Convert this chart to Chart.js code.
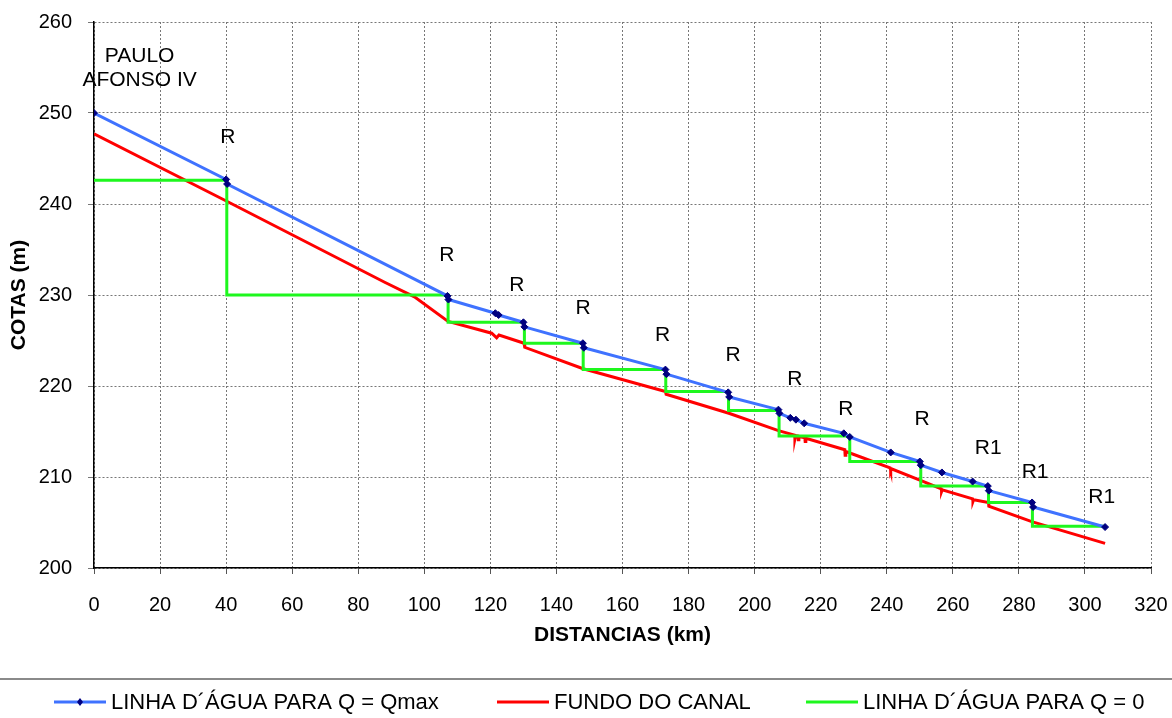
<!DOCTYPE html>
<html lang="pt-BR">
<head>
<meta charset="utf-8">
<title>Perfil do canal</title>
<script src="https://cdn.jsdelivr.net/npm/chart.js@4.4.1/dist/chart.umd.min.js"></script>
<style>
  html, body { margin: 0; padding: 0; background: #ffffff; }
  #perfil { display: block; }
</style>
</head>
<body>
<canvas id="perfil" width="1172" height="718"></canvas>
<script>
// Linha d'água para Q = Qmax (km, cota)
const qmaxKm = [0, 40.0, 40.3, 107.0, 107.3, 121.5, 122.5, 130.0, 130.3, 148.0, 148.3, 173.0, 173.3, 192.0, 192.3, 207.2, 207.5, 210.8, 212.5, 215.0, 227.0, 228.8, 241.2, 250.0, 250.3, 256.7, 266.0, 270.6, 270.9, 284.0, 284.3, 306.1];
const qmaxCota = [250.0, 242.7, 242.2, 229.9, 229.5, 228.0, 227.8, 227.0, 226.5, 224.7, 224.2, 221.8, 221.3, 219.3, 218.8, 217.4, 217.0, 216.5, 216.3, 215.9, 214.8, 214.4, 212.7, 211.7, 211.3, 210.5, 209.5, 209.0, 208.5, 207.2, 206.7, 204.5];

// Fundo do canal
const fundoKm = [0, 40.2, 88, 97, 107.2, 120.4, 121.9, 122.6, 130.2, 130.4, 148.1, 173.0, 173.2, 192.2, 207.2, 212.1, 212.2, 212.4, 213.1, 213.2, 213.4, 215.2, 215.3, 215.5, 227.3, 227.4, 227.6, 241.0, 241.2, 241.4, 250.4, 256.5, 256.6, 256.8, 266.0, 266.1, 266.3, 270.8, 270.9, 283.9, 306.1];
const fundoCota = [247.7, 240.3, 231.4, 229.8, 227.1, 225.8, 225.3, 225.6, 224.7, 224.25, 221.9, 219.4, 219.1, 217.0, 215.1, 214.6, 214.2, 214.55, 214.5, 214.1, 214.45, 214.3, 213.9, 214.25, 213.0, 212.4, 212.8, 211.0, 210.7, 210.9, 209.6, 208.7, 208.4, 208.6, 207.6, 207.3, 207.5, 207.2, 206.8, 205.1, 202.7];

// Linha d'água para Q = 0 (degraus entre reguladores)
const zeroKm = [0, 40.2, 40.2, 107.2, 107.2, 130.3, 130.3, 148.1, 148.1, 173.1, 173.1, 192.1, 192.1, 207.4, 207.4, 228.8, 228.8, 250.3, 250.3, 270.8, 270.8, 284.1, 284.1, 306.1];
const zeroCota = [242.6, 242.6, 230.0, 230.0, 227.0, 227.0, 224.7, 224.7, 221.8, 221.8, 219.4, 219.4, 217.3, 217.3, 214.5, 214.5, 211.7, 211.7, 209.0, 209.0, 207.2, 207.2, 204.6, 204.6];

// Anotações (reguladores)
const notaTexto = ["PAULO", "AFONSO IV", "R", "R", "R", "R", "R", "R", "R", "R", "R", "R1", "R1", "R1"];
const notaKm = [13.8, 13.8, 40.5, 106.8, 128.0, 148.1, 172.1, 193.5, 212.2, 227.6, 250.7, 270.7, 284.9, 305.1];
const notaCota = [256.2, 253.6, 247.3, 234.4, 231.1, 228.5, 225.6, 223.4, 220.7, 217.5, 216.3, 213.2, 210.5, 207.8];

const legendaTexto = ["LINHA D´ÁGUA PARA Q = Qmax", "FUNDO DO CANAL", "LINHA D´ÁGUA PARA Q = 0"];

const COR_QMAX = "#3f72ff";
const COR_MARCADOR = "#000080";
const COR_FUNDO = "#ff0000";
const COR_ZERO = "#1ef71e";
const FONTE = "'Liberation Sans', Arial, sans-serif";

function toPoints(xs, ys) {
  return xs.map((x, i) => ({ x, y: ys[i] }));
}

// a área do gráfico fica presa ao padding do layout, não ao tamanho dos rótulos
function semPaddingDeRotulo(scale) {
  scale.paddingLeft = 0;
  scale.paddingRight = 0;
  scale.paddingTop = 0;
  scale.paddingBottom = 0;
}

const notasPlugin = {
  id: "notas",
  afterDatasetsDraw(chart) {
    const { ctx, scales } = chart;
    ctx.save();
    ctx.font = `21px ${FONTE}`;
    ctx.fillStyle = "#000";
    ctx.textAlign = "center";
    ctx.textBaseline = "middle";
    notaTexto.forEach((texto, i) => {
      const px = scales.x.getPixelForValue(notaKm[i]);
      const py = scales.y.getPixelForValue(notaCota[i]);
      ctx.fillText(texto, px, py);
    });
    ctx.restore();
  },
};

const legendaPlugin = {
  id: "legendaInferior",
  afterDraw(chart) {
    const { ctx, width } = chart;
    const y = 702;
    const itens = [
      { cor: COR_QMAX, x: 54, marcador: true },
      { cor: COR_FUNDO, x: 497, marcador: false },
      { cor: COR_ZERO, x: 806, marcador: false },
    ];

    ctx.save();
    ctx.strokeStyle = "#8a8a8a";
    ctx.lineWidth = 2;
    ctx.beginPath();
    ctx.moveTo(0, 679);
    ctx.lineTo(width, 679);
    ctx.stroke();

    ctx.font = `22px ${FONTE}`;
    ctx.textBaseline = "middle";
    ctx.textAlign = "left";
    itens.forEach((item, i) => {
      ctx.strokeStyle = item.cor;
      ctx.lineWidth = 3;
      ctx.beginPath();
      ctx.moveTo(item.x, y);
      ctx.lineTo(item.x + 52, y);
      ctx.stroke();
      if (item.marcador) {
        const cx = item.x + 26;
        ctx.fillStyle = COR_MARCADOR;
        ctx.beginPath();
        ctx.moveTo(cx, y - 4);
        ctx.lineTo(cx + 3, y);
        ctx.lineTo(cx, y + 4);
        ctx.lineTo(cx - 3, y);
        ctx.closePath();
        ctx.fill();
      }
      ctx.fillStyle = "#000";
      ctx.fillText(legendaTexto[i], item.x + 57, y + 1);
    });
    ctx.restore();
  },
};

const canvas = document.getElementById("perfil");

new Chart(canvas, {
  type: "line",
  data: {
    datasets: [
      {
        label: legendaTexto[0],
        data: toPoints(qmaxKm, qmaxCota),
        borderColor: COR_QMAX,
        borderWidth: 3,
        pointStyle: "rectRot",
        pointRadius: 3.5,
        pointBackgroundColor: COR_MARCADOR,
        pointBorderColor: COR_MARCADOR,
        pointBorderWidth: 1,
        tension: 0,
        order: 0,
      },
      {
        label: legendaTexto[1],
        data: toPoints(fundoKm, fundoCota),
        borderColor: COR_FUNDO,
        borderWidth: 3,
        pointRadius: 0,
        tension: 0,
        order: 2,
      },
      {
        label: legendaTexto[2],
        data: toPoints(zeroKm, zeroCota),
        borderColor: COR_ZERO,
        borderWidth: 3,
        pointRadius: 0,
        tension: 0,
        order: 1,
      },
    ],
  },
  options: {
    responsive: false,
    animation: false,
    devicePixelRatio: 1,
    layout: { padding: { top: 22, right: 21, bottom: 66.4, left: 0 } },
    plugins: {
      legend: { display: false },
      tooltip: { enabled: false },
    },
    scales: {
      x: {
        type: "linear",
        min: 0,
        max: 320,
        afterFit: (scale) => {
          scale.height = 83.6;
          semPaddingDeRotulo(scale);
        },
        ticks: {
          stepSize: 20,
          padding: 19,
          color: "#000",
          font: { family: FONTE, size: 20 },
        },
        grid: { color: "#777", tickColor: "#555", tickLength: 6, lineWidth: 1 },
        border: { display: true, color: "#000", width: 1.5, dash: [2, 2] },
        title: {
          display: true,
          text: "DISTANCIAS (km)",
          color: "#000",
          padding: { top: 4, bottom: 4 },
          font: { family: FONTE, size: 21, weight: "bold" },
        },
      },
      y: {
        min: 200,
        max: 260,
        afterFit: (scale) => {
          scale.width = 94;
          semPaddingDeRotulo(scale);
        },
        ticks: {
          stepSize: 10,
          padding: 16,
          color: "#000",
          font: { family: FONTE, size: 20 },
        },
        grid: { color: "#777", tickColor: "#777", tickLength: 6, lineWidth: 1 },
        border: { display: true, color: "#000", width: 1.5, dash: [2, 2] },
        title: {
          display: true,
          text: "COTAS (m)",
          color: "#000",
          padding: { top: 6.4, bottom: 4 },
          font: { family: FONTE, size: 21, weight: "bold" },
        },
      },
    },
  },
  plugins: [notasPlugin, legendaPlugin],
});
</script>
</body>
</html>
